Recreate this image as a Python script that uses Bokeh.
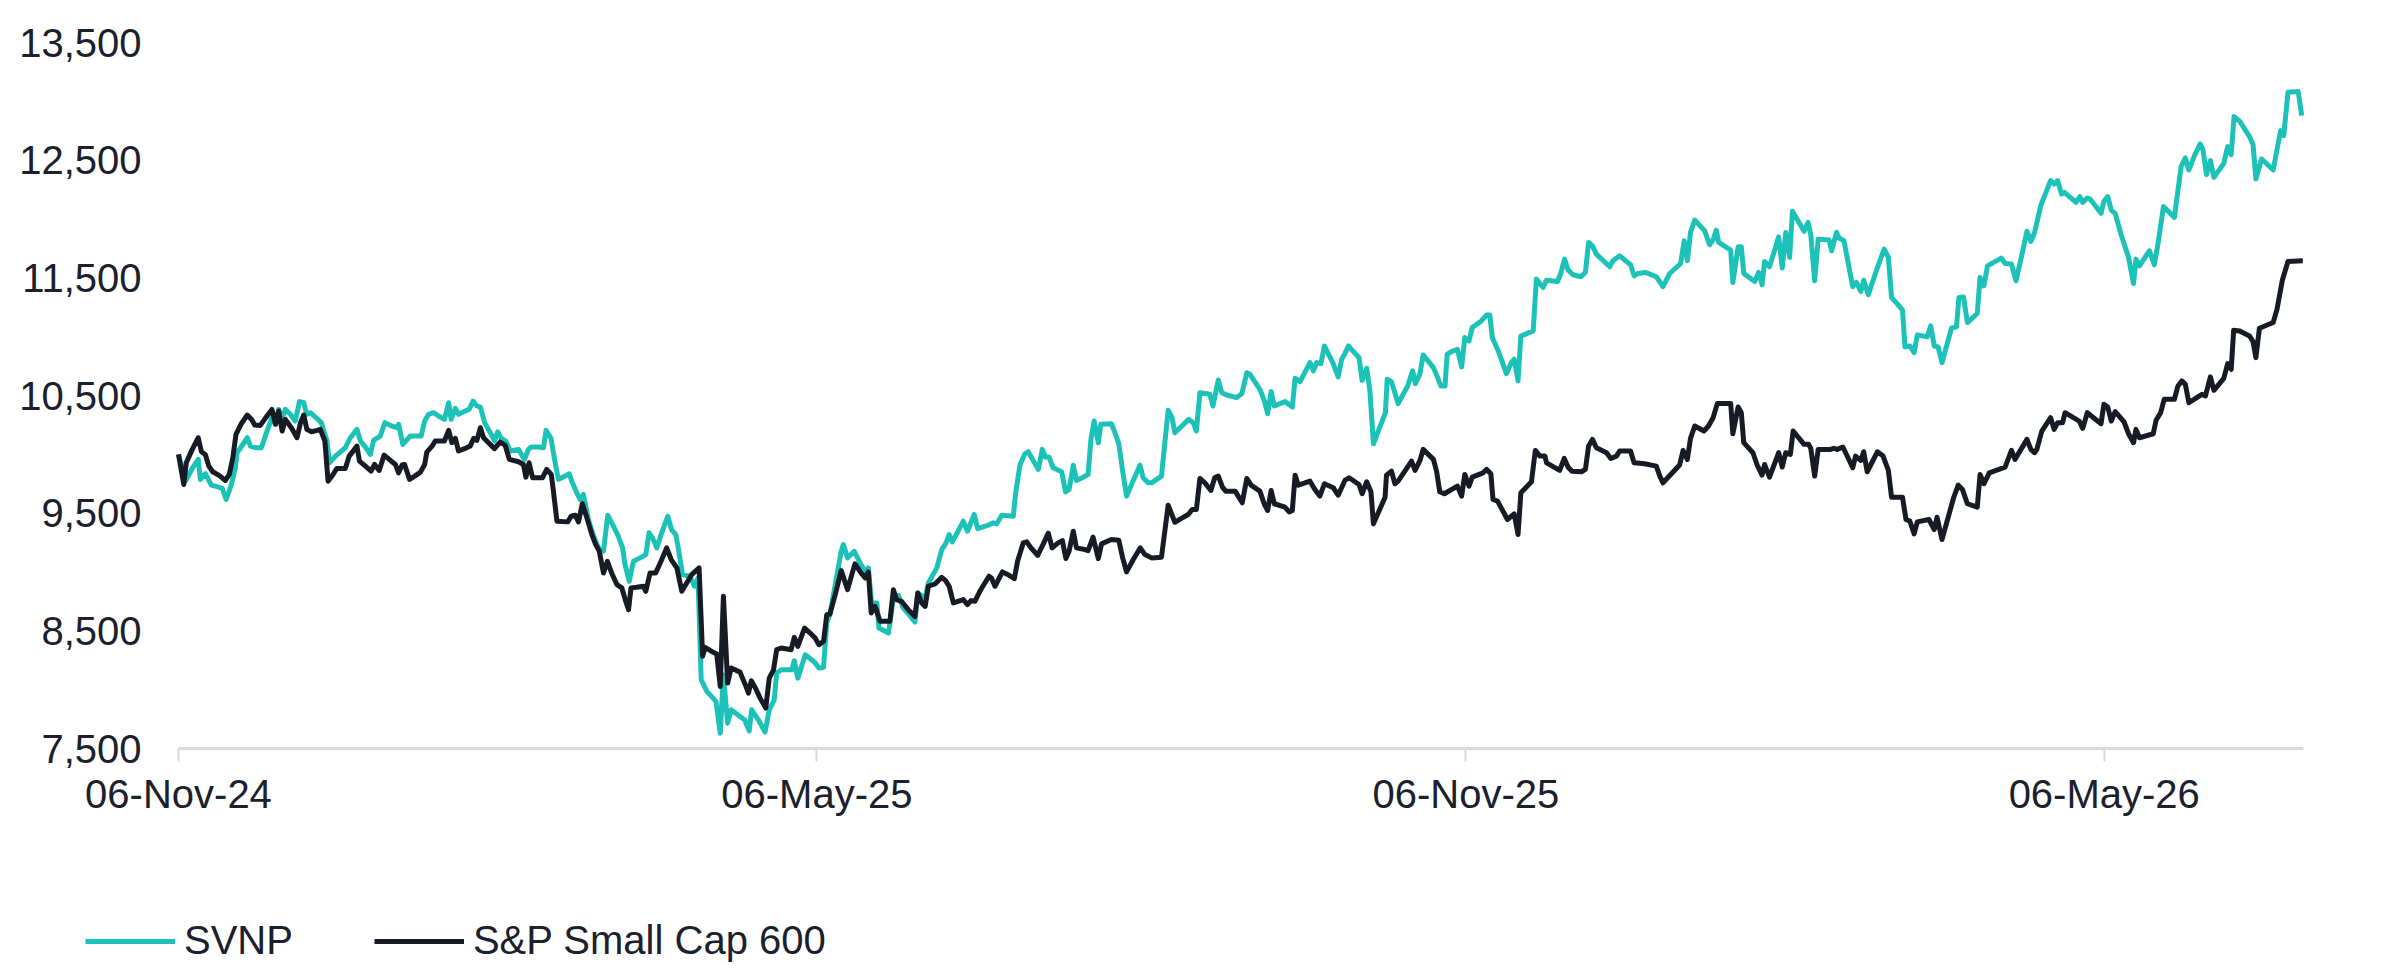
import pandas as pd
from bokeh.plotting import figure
from bokeh.models import (FixedTicker, DatetimeTickFormatter, NumeralTickFormatter,
                          Range1d, Legend, LegendItem)
from bokeh.embed import file_html
from bokeh.resources import INLINE

# ---------------- data ----------------
START_DATE = "2024-11-06"          # day 0 of the series
END_DAY = 602.5                    # last day shown on the x axis
TICK_DATES = ["2024-11-06", "2025-05-06", "2025-11-06", "2026-05-06"]
Y_TICKS = [7500, 8500, 9500, 10500, 11500, 12500, 13500]

SERIES_NAMES = ["SVNP", "S&P Small Cap 600"]

# SVNP: days since start, index value
svnp_days = [
    0, 2.0, 3.9, 5.6, 6.2, 7.6, 9.3, 11.4, 12.4, 13.5, 15.0, 16.1, 16.6, 17.6, 19.5, 20.4, 21.8, 23.5,
    25.1, 26.5, 27.5, 28.4, 29.2, 30.3, 31.7, 33.1, 34.3, 35.5, 36.4, 37.4, 38.8, 40.5, 42.1, 42.8,
    44.5, 47.3, 48.7, 50.6, 51.6, 53.0, 54.4, 55.3, 57.2, 58.5, 60.5, 61.9, 62.4, 63.6, 65.7, 67.1,
    68.8, 69.8, 70.9, 72.3, 73.7, 75.4, 76.6, 77.3, 78.5, 79.4, 80.8, 82.4, 83.5, 84.6, 85.6, 86.8,
    88.4, 89.6, 90.5, 91.5, 92.8, 94.1, 96.4, 98.1, 99.2, 100.0, 102.1, 103.5, 104.2, 105.6, 106.8,
    107.7, 109.6, 110.8, 111.5, 112.9, 113.9, 114.8, 116.2, 117.7, 119.1, 120.5, 121.7, 123.3, 124.7,
    125.9, 126.6, 127.8, 129.0, 130.9, 132.5, 133.4, 134.4, 135.6, 137.0, 138.7, 139.8, 141.0, 141.7,
    142.9, 145.0, 146.3,
    147.3, 148.2, 149.8, 152.4, 153.6, 154.5, 155.7, 156.7, 159.2, 160.5, 161.8, 162.5, 164.4, 166.3,
    167.5, 168.9, 169.6, 170.9, 173.9, 174.6, 175.6, 177.7, 180.3, 181.6, 182.9, 183.8, 184.7, 186.2,
    187.9, 188.5, 189.7, 191.6, 193.5, 194.7, 195.6, 196.5, 198.0, 198.6, 201.3, 202.7, 204.1, 205.5,
    208.8, 209.6, 211.7, 212.6, 215.0, 216.4, 217.5, 218.5, 219.4, 221.1, 222.5, 223.7, 225.6, 226.6,
    229.6, 231.0, 232.0, 233.4, 236.7, 237.3, 238.6, 240.0, 240.9, 243.8, 244.9, 245.8, 246.8, 248.0,
    250.4, 251.5, 252.5, 253.7, 254.6, 256.5, 257.9, 258.7, 259.6, 260.8, 261.5, 264.5, 265.7, 266.6,
    267.7, 268.8, 270.7, 272.6, 273.5, 274.9, 275.9, 278.7, 280.6, 281.7, 282.5, 284.8, 286.4, 287.7,
    288.6, 289.6, 292.4, 293.3,
    294.8, 295.8, 297.2, 300.0, 301.5, 302.9, 303.8, 306.6, 307.9, 308.8, 309.8, 310.7, 313.7, 315.8,
    316.6, 318.0, 320.8, 321.8, 322.7, 323.9, 324.9, 327.4, 328.8, 329.8, 330.7, 331.7, 334.7, 335.6,
    336.9, 337.8, 338.8, 342.2, 342.7, 343.9, 345.8, 348.5, 349.9, 350.7, 352.0, 352.9, 355.8, 357.0,
    357.9, 359.1, 359.7, 360.9, 362.6, 363.8, 364.7, 365.9, 366.8, 369.4, 370.9, 371.8, 372.5, 374.2,
    376.5, 377.9, 378.7, 379.8, 380.6, 384.1, 385.0, 386.9, 387.9, 391.0, 391.9, 393.0, 394.0, 395.4,
    397.6, 398.9, 399.8, 400.9, 402.0, 405.8, 406.7, 408.6, 411.7, 412.7, 413.8, 415.9, 419.0, 420.9,
    422.8, 425.9, 426.9, 427.8, 428.7, 429.9, 432.7, 434.1, 435.1, 436.0, 436.7, 440.1, 440.7,
    442.2, 443.1, 443.8, 446.9, 448.0, 449.0, 449.7, 451.1, 453.7, 454.7, 455.7, 456.8, 457.6, 460.9,
    462.0, 462.8, 463.9, 464.9, 468.0, 468.7, 470.1, 470.8, 472.2, 474.7, 475.7, 477.0, 477.8, 479.1,
    481.7, 483.6, 484.8, 485.7, 487.4, 488.8, 489.5, 490.9, 492.1, 493.0, 495.8, 496.8, 497.8, 498.9,
    500.0, 502.7, 504.1, 504.8, 506.1, 507.2, 510.0, 510.8, 511.9, 512.9, 516.8, 517.9, 519.7, 521.0,
    522.8, 524.1, 525.2, 526.2, 528.0, 530.8, 531.8, 532.8, 533.9, 534.7, 538.0, 539.1, 539.9, 541.2,
    542.0, 545.1, 545.9, 547.0, 548.0, 549.1, 550.8, 552.9, 554.3, 555.0, 556.0, 558.8, 560.2, 561.2,
    562.8, 565.9, 567.8, 569.0, 570.0, 571.6, 573.2, 574.0, 575.0, 576.1, 577.1, 579.9, 581.0, 582.0,
    582.8, 584.4, 587.2, 588.2, 589.0, 590.6, 593.9, 596.0, 596.9, 598.1, 601.0, 602.0,
]
svnp_values = [
    10000, 9772, 9880, 9957, 9787, 9835, 9738, 9721, 9710, 9616, 9744, 9886, 10014, 10056, 10141, 10070,
    10056, 10056, 10198, 10311, 10260, 10382, 10297, 10382, 10340, 10283, 10448, 10439, 10340, 10354,
    10317, 10269, 10113, 9928, 9985, 10056, 10141, 10212, 10113, 10062, 9999, 10118, 10155, 10269,
    10240, 10226, 10255, 10084, 10155, 10155, 10155, 10283, 10340, 10354, 10326, 10297, 10439, 10297,
    10391, 10340, 10362, 10382, 10453, 10411, 10402, 10269, 10184, 10113, 10192, 10136, 10113, 10028,
    10042, 9957, 10042, 10062, 10062, 10056, 10204, 10136, 9928, 9787, 9815, 9835, 9772, 9673, 9616,
    9659, 9446, 9304, 9205, 9177, 9483, 9389, 9304, 9205, 9063, 8921, 9091, 9120, 9148, 9333, 9290,
    9205, 9333, 9474, 9361, 9318, 9205, 8978, 8964, 8879,
    8949, 8084, 7985, 7900, 7630, 8127, 7715, 7829, 7772, 7744, 7650, 7829, 7744, 7639, 7829, 7914,
    8141, 8169, 8169, 8246, 8098, 8297, 8235, 8184, 8189, 8567, 8637, 8893, 9176, 9233, 9120, 9176,
    9063, 9006, 9035, 8737, 8737, 8524, 8481, 8779, 8802, 8694, 8575, 8822, 8779, 8907, 9035, 9191,
    9239, 9318, 9256, 9352, 9432, 9347, 9489, 9369, 9398, 9418, 9409, 9483, 9474, 9659, 9914, 10005,
    10022, 9872, 10042, 9977, 9977, 9886, 9852, 9681, 9701, 9908, 9778, 9806, 9829, 10127, 10283,
    10099, 10255, 10260, 10169, 10090, 9857, 9645, 9778, 9908, 9801, 9758, 9758, 9815, 10374, 10311,
    10184, 10249, 10297, 10269, 10198, 10524, 10510, 10411,
    10632, 10524, 10504, 10482, 10516, 10694, 10680, 10553, 10453, 10345, 10533, 10411, 10448, 10402,
    10646, 10618, 10780, 10709, 10780, 10771, 10921, 10771, 10658, 10808, 10856, 10921, 10822, 10629,
    10731, 10538, 10090, 10354, 10638, 10618, 10431, 10581, 10709, 10601, 10686, 10845, 10737, 10652,
    10581, 10581, 10850, 10873, 10893, 10743, 10992, 10964, 11077, 11134, 11185, 11185, 10992, 10879,
    10686, 10780, 10808, 10624, 11006, 11049, 11489, 11418, 11480, 11469, 11537, 11659, 11565, 11526,
    11509, 11546, 11801, 11772, 11702, 11594, 11645, 11687, 11611, 11517, 11537, 11546, 11509, 11426,
    11537, 11622, 11815, 11645, 11886, 11991, 11900, 11781, 11821, 11906, 11801, 11736, 11460,
    11764, 11764, 11537, 11469, 11546, 11441, 11639, 11594, 11849, 11583, 11886, 11673, 12065, 11895,
    11971, 11866, 11475, 11829, 11821, 11730, 11886, 11838, 11815, 11424, 11461, 11384, 11480, 11356,
    11588, 11744, 11673, 11333, 11276, 11225, 10913, 10921, 10865, 11015, 10998, 11092, 10921, 10913,
    10780, 11072, 11083, 11333, 11338, 11120, 11197, 11503, 11432, 11602, 11668, 11622, 11617, 11475,
    11716, 11895, 11809, 11878, 12113, 12326, 12297, 12326, 12212, 12227, 12141, 12190, 12141, 12178,
    12170, 12048, 12150, 12190, 12076, 12048, 11866, 11673, 11452, 11659, 11602, 11730, 11611, 11781,
    12105, 12014, 12445, 12519, 12417, 12539, 12638, 12587, 12377, 12496, 12354, 12473, 12615, 12547,
    12870, 12831, 12700, 12632, 12340, 12510, 12417, 12751, 12709, 13078, 13083, 12879,
]

# S&P Small Cap 600: days since start, index value
sp600_days = [
    0, 1.5, 2.2, 3.9, 5.6, 6.5, 7.6, 8.6, 9.7, 11.4, 13.3, 14.4, 15.4, 16.3, 17.8, 19.5, 20.9, 21.6,
    23.2, 24.6, 26.5, 27.5, 28.4, 29.4, 30.3, 32.0, 33.6, 34.6, 35.5, 36.4, 37.7, 39.3, 40.2, 41.5,
    42.4, 43.5, 44.9, 47.3, 48.4, 50.6, 51.3, 53.0, 54.6, 55.6, 56.9, 58.3, 60.1, 61.5, 62.4, 63.4,
    64.1, 65.5, 67.0, 68.6, 69.8, 70.4, 71.9, 72.8, 75.4, 76.6, 77.5, 78.5, 79.4, 81.1, 82.7, 83.7,
    84.6, 85.6, 86.5, 87.9, 89.6, 91.2, 92.6, 93.8, 96.4, 97.8, 98.5, 99.4, 100.4, 103.2, 104.4, 105.7,
    106.3, 107.3, 110.4, 111.3, 112.5, 113.4, 114.5, 115.8, 117.2, 118.3, 119.3, 120.5, 121.6, 122.8,
    124.3, 125.7, 126.8, 127.6, 128.3, 129.9, 131.8, 132.5, 133.7, 135.3, 136.8, 138.4, 139.7, 141.3,
    142.7, 144.1, 145.5,
    147.6, 148.6, 149.3, 151.2, 152.6, 153.6, 154.5, 155.7, 156.7, 159.2, 160.7, 161.6, 162.4, 163.5,
    164.9, 166.5, 167.5, 168.7, 169.6, 170.9, 173.7, 174.6, 175.6, 177.5, 179.1, 180.5, 181.6, 182.9,
    183.8, 184.7, 186.2, 187.9, 189.7, 190.9, 191.8, 193.5, 194.7, 195.6, 196.4, 197.5, 198.9, 201.7,
    202.7, 203.6, 205.0, 206.9, 208.8, 209.6, 210.7, 211.7, 212.6, 214.5, 216.4, 217.5, 218.5, 219.7,
    222.5, 223.7, 224.7, 225.8, 227.2, 229.8, 230.5, 231.5, 233.6, 235.5, 237.0, 237.9, 239.5, 240.5,
    241.7, 243.6, 245.2, 246.6, 247.7, 249.4, 250.6, 251.6, 252.5, 253.7, 254.6, 257.0, 257.9, 259.3,
    260.8, 261.7, 264.5, 266.6, 267.7, 268.8, 270.7, 272.7, 274.0, 275.9, 278.7, 280.6, 282.5, 284.6,
    286.3, 287.4, 288.6, 289.6, 291.0, 292.7, 293.8,
    294.8, 296.0, 296.9, 299.6, 301.6, 302.9, 304.1, 306.6, 307.9, 308.8, 309.8, 310.7, 313.7, 314.9,
    315.8, 316.6, 317.5, 320.8, 322.2, 323.6, 324.9, 327.4, 328.8, 330.7, 331.9, 334.7, 335.6, 336.9,
    338.1, 338.8, 342.1, 342.5, 343.9, 344.9, 345.8, 349.6, 350.6, 352.0, 352.9, 355.8, 356.7, 357.6,
    358.9, 362.6, 363.8, 364.7, 365.9, 366.8, 369.9, 370.9, 372.1, 372.7, 374.0, 376.8, 378.7, 379.8,
    380.6, 383.6, 384.7, 386.0, 387.4, 387.9, 391.6, 392.9, 394.0, 395.1, 397.8, 398.9, 399.8, 400.9,
    402.0, 404.9, 406.1, 407.7, 408.6, 411.7, 412.7, 415.7, 419.0, 420.0, 420.9, 423.1, 425.6, 426.6,
    427.8, 428.7, 429.9, 432.5, 433.8, 435.1, 436.3, 440.1, 440.7,
    442.2, 443.1, 443.8, 446.4, 447.6, 449.0, 449.7, 451.1, 453.7, 454.7, 455.7, 457.0, 457.8, 460.9,
    462.2, 462.8, 463.9, 464.9, 468.4, 469.3, 470.3, 471.9, 474.7, 475.5, 477.0, 477.8, 478.8, 481.7,
    483.3, 484.8, 485.7, 488.8, 489.8, 490.9, 492.1, 493.0, 496.3, 497.8, 498.6, 500.0, 503.3, 504.6,
    505.8, 507.2, 510.0, 510.8, 511.9, 513.4, 517.9, 519.7, 520.7, 524.1, 525.2, 526.2, 526.9, 528.3,
    530.8, 531.8, 532.8, 534.2, 534.9, 538.9, 539.9, 541.2, 545.1, 545.9, 547.0, 548.0, 549.1, 551.6,
    552.9, 554.3, 555.0, 556.0, 559.9, 560.7, 562.0, 563.0, 565.9, 566.9, 568.0, 569.0, 570.0, 573.7,
    574.7, 576.1, 577.1, 579.9, 581.0, 582.0, 582.7, 584.4, 587.2, 588.2, 589.0, 590.0, 593.9, 595.0,
    596.5, 598.1, 602.3,
]
sp600_values = [
    10000, 9744, 9928, 10042, 10141, 10022, 9999, 9900, 9852, 9823, 9778, 9829, 9971, 10170, 10260,
    10334, 10289, 10249, 10246, 10306, 10382, 10255, 10368, 10198, 10297, 10226, 10141, 10269, 10334,
    10212, 10192, 10204, 10212, 10113, 9772, 9815, 9880, 9880, 9985, 10070, 9943, 9900, 9858, 9914,
    9863, 9994, 9948, 9914, 9843, 9909, 9914, 9787, 9815, 9849, 9914, 10019, 10070, 10113, 10113,
    10204, 10099, 10136, 10028, 10048, 10070, 10136, 10118, 10226, 10141, 10099, 10048, 10104, 10079,
    9957, 9937, 9914, 9806, 9928, 9801, 9801, 9872, 9829, 9687, 9432, 9426, 9474, 9483, 9426, 9580,
    9460, 9318, 9233, 9177, 8992, 9091, 8992, 8893, 8865, 8751, 8680, 8865, 8870, 8879, 8836, 8992,
    8992, 9091, 9205, 9106, 9035, 8836, 8907, 8978,
    9035, 8283, 8359, 8325, 8303, 8027, 8794, 8056, 8184, 8149, 8042, 7971, 8076, 8019, 7928, 7843,
    8098, 8169, 8340, 8354, 8340, 8445, 8368, 8524, 8481, 8439, 8382, 8411, 8637, 8643, 8808, 9012,
    8850, 8978, 9069, 8992, 8949, 9001, 8652, 8708, 8581, 8581, 8850, 8765, 8751, 8680, 8623, 8822,
    8737, 8708, 8879, 8898, 8955, 8927, 8879, 8737, 8765, 8723, 8757, 8751, 8836, 8964, 8949, 8879,
    9001, 8972, 8944, 9091, 9247, 9256, 9205, 9142, 9239, 9330, 9205, 9247, 9267, 9114, 9177, 9347,
    9205, 9191, 9182, 9296, 9114, 9239, 9276, 9270, 9120, 9001, 9106, 9205, 9148, 9120, 9125, 9568,
    9423, 9460, 9489, 9531, 9531, 9795, 9758, 9693, 9801,
    9815, 9721, 9687, 9687, 9588, 9795, 9738, 9687, 9574, 9523, 9693, 9580, 9551, 9511, 9523, 9823,
    9738, 9772, 9701, 9645, 9750, 9716, 9653, 9778, 9801, 9744, 9665, 9767, 9682, 9409, 9636, 9823,
    9857, 9750, 9772, 9943, 9863, 9948, 10042, 9957, 9857, 9682, 9665, 9730, 9645, 9829, 9730, 9806,
    9843, 9872, 9835, 9616, 9602, 9446, 9494, 9318, 9673, 9767, 10033, 9985, 9985, 9928, 9863, 9965,
    9891, 9857, 9852, 9872, 10070, 10127, 10056, 10014, 9965, 9985, 10028, 10028, 9928, 9920, 9900,
    9815, 9758, 9829, 9909, 10033, 9957, 10136, 10241, 10198, 10241, 10311, 10431, 10431, 10175,
    10402, 10354, 10099, 10014, 9909, 9824, 9914, 9806, 10014, 9892, 10014, 9999, 10198, 10085, 10085,
    10051, 9815, 10042, 10042, 10051, 10042, 10062, 9886, 9985, 9948, 10022, 9852, 10022, 9985, 9863,
    9636, 9636, 9446, 9432, 9324, 9426, 9446, 9361, 9466, 9276, 9631, 9738, 9702, 9580, 9551, 9829,
    9750, 9843, 9892, 10034, 9957, 10127, 10042, 10014, 10042, 10198, 10311, 10212, 10269, 10269,
    10354, 10283, 10221, 10354, 10260, 10425, 10402, 10283, 10363, 10277, 10175, 10099, 10212, 10141,
    10175, 10289, 10354, 10468, 10468, 10581, 10624, 10595, 10439, 10510, 10496, 10658, 10544, 10646,
    10771, 10723, 11055, 11049, 11006, 10958, 10822, 11072, 11120, 11234, 11480, 11639, 11645,
]

# ---------------- styling / layout ----------------
TEAL = "#1cc2b8"
DARK = "#161b26"
TEXT = "#1b202c"
AXIS = "#d4dbe5"
FONT = "Liberation Sans"

W, H = 2371, 966
PLOT_L, PLOT_R, PLOT_T, PLOT_B = 178, 2303, 42, 748   # pixel box of the data area

start = pd.Timestamp(START_DATE)
end = start + pd.Timedelta(days=END_DAY)


def to_dates(days):
    return [start + pd.Timedelta(days=d) for d in days]


svnp_x = to_dates(svnp_days)
sp600_x = to_dates(sp600_days)

# the frame spans the whole canvas; axes are pinned at the data box edges
px_per_day = (PLOT_R - PLOT_L) / END_DAY
px_per_unit = (PLOT_B - PLOT_T) / (Y_TICKS[-1] - Y_TICKS[0])
x_lo = start - pd.Timedelta(days=PLOT_L / px_per_day)
x_hi = end + pd.Timedelta(days=(W - PLOT_R) / px_per_day)
y_hi = Y_TICKS[-1] + PLOT_T / px_per_unit
y_lo = Y_TICKS[0] - (H - PLOT_B) / px_per_unit

p = figure(width=W, height=H, x_axis_type="datetime",
           output_backend="svg", toolbar_location=None,
           x_range=Range1d(x_lo.to_pydatetime(), x_hi.to_pydatetime()),
           y_range=Range1d(y_lo, y_hi),
           min_border_left=0, min_border_right=0, min_border_top=0, min_border_bottom=0)
p.outline_line_color = None
p.background_fill_color = "white"
p.border_fill_color = "white"
p.xgrid.visible = False
p.ygrid.visible = False

r_svnp = p.line(svnp_x, svnp_values, line_color=TEAL, line_width=5, line_join="round")
r_sp600 = p.line(sp600_x, sp600_values, line_color=DARK, line_width=5, line_join="round")

start_ms = start.value / 1e6
end_ms = end.value / 1e6

# x axis pinned at the bottom of the data box
xa = p.xaxis[0]
xa.fixed_location = Y_TICKS[0]
xa.bounds = (start_ms, end_ms)
xa.ticker = FixedTicker(ticks=[pd.Timestamp(d).value / 1e6 for d in TICK_DATES])
fmt = "%d-%b-%y"
xa.formatter = DatetimeTickFormatter(days=fmt, months=fmt, years=fmt, hours=fmt,
                                     hourmin=fmt, minutes=fmt, minsec=fmt, seconds=fmt,
                                     milliseconds=fmt, microseconds=fmt)
xa.axis_line_color = AXIS
xa.axis_line_width = 3
xa.major_tick_line_color = AXIS
xa.major_tick_line_width = 2
xa.major_tick_out = 13
xa.major_tick_in = 0
xa.minor_tick_line_color = None
xa.major_label_text_font = FONT
xa.major_label_text_font_size = "40px"
xa.major_label_text_color = TEXT
xa.major_label_standoff = 10

# y axis pinned at the left edge of the data box
ya = p.yaxis[0]
ya.fixed_location = start_ms
ya.ticker = FixedTicker(ticks=Y_TICKS)
ya.formatter = NumeralTickFormatter(format="0,0")
ya.axis_line_color = None
ya.major_tick_line_color = None
ya.minor_tick_line_color = None
ya.major_tick_out = 0
ya.major_tick_in = 0
ya.major_label_text_font = FONT
ya.major_label_text_font_size = "40px"
ya.major_label_text_color = TEXT
ya.major_label_standoff = 37

# legend at the bottom, using the two series lines
legend = Legend(items=[LegendItem(label=SERIES_NAMES[0], renderers=[r_svnp]),
                       LegendItem(label=SERIES_NAMES[1], renderers=[r_sp600])],
                location=(85, 3), orientation="horizontal",
                glyph_width=90, glyph_height=40, label_standoff=9, spacing=81,
                padding=0, margin=0, border_line_color=None, background_fill_alpha=0,
                label_text_font=FONT, label_text_font_size="40px", label_text_color=TEXT)
p.add_layout(legend)

open("out.html", "w").write(file_html(p, INLINE))
